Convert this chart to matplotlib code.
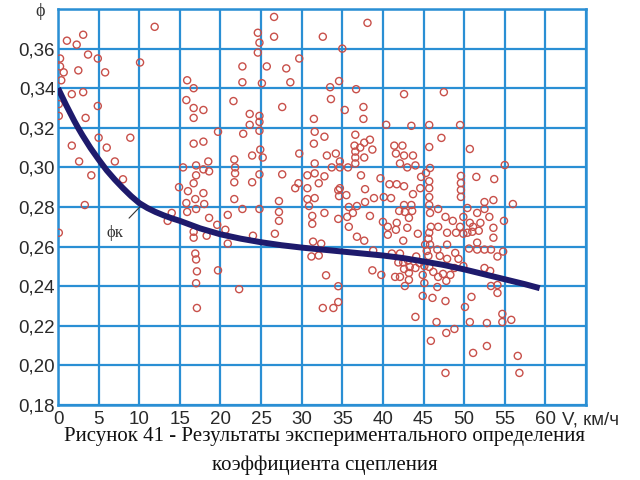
import matplotlib
matplotlib.use('Agg')
import matplotlib.pyplot as plt

# experimental points: speed V (km/h) and adhesion coefficient phi
v_pts = [
    11.9, 1.1, 3.1, 2.3, 0.25, 3.7, 4.9, 0.25, 0.7, 2.5, 5.8, 10.1, 0.4, 1.7, 3.1, 0.1,
    4.9, 0.1, 3.4, 5.0, 8.9, 1.7, 6.0, 2.6, 7.0, 4.1, 8.0, 3.3, 0.1, 14.0, 13.5,
    15.9, 16.7, 15.8, 16.7, 17.9, 16.7, 19.7, 16.7, 17.9, 15.4, 17.0, 18.5, 17.9, 18.6,
    17.0, 16.7, 14.9, 16.0, 17.9, 16.9, 15.8, 18.0, 17.0, 15.9, 18.6, 19.6, 16.7, 18.3,
    16.7, 16.9, 17.0, 17.1, 17.0, 19.7, 17.1,
    26.6, 24.6, 24.8, 26.6, 24.6, 32.6, 38.1, 35.0, 22.7, 25.7, 28.1, 29.7, 22.7, 25.1,
    28.6, 34.6, 33.5, 36.7, 33.6, 42.6, 21.6, 27.6, 35.3, 37.6, 37.6, 23.6, 24.8, 24.8,
    23.6, 24.8, 31.5, 40.4, 43.5, 22.8, 31.6, 32.8, 31.5, 36.6, 36.5, 37.2, 37.7, 38.4,
    38.7, 36.6, 36.6, 37.7, 36.6, 41.4, 42.4, 41.6, 42.6, 43.7, 42.1, 43.0, 44.0, 24.9,
    25.2, 23.9, 29.7, 33.1, 34.2, 34.7, 31.6, 33.7, 34.7, 35.7, 21.7, 21.8, 21.8, 24.8,
    27.6, 30.7, 31.6, 32.8, 37.3, 39.7, 21.7, 23.9, 29.6, 32.1, 29.2, 30.7, 21.7, 20.9,
    22.7, 24.8, 20.6, 20.9, 24.0, 26.7, 27.2, 27.2, 27.2, 30.7, 31.6, 30.9, 32.8, 31.3,
    31.3, 34.5, 34.5, 31.4, 32.4, 31.2, 32.1, 33.0, 34.5, 22.3, 32.6, 33.9, 34.5,
    34.7, 34.6, 35.5, 37.8, 40.8, 41.7, 42.6, 43.7, 40.1, 41.0, 38.9, 37.8, 35.8, 36.8,
    35.6, 36.3, 38.4, 35.8, 36.8, 37.7, 40.0, 40.6, 41.7, 41.6, 40.6, 42.6, 43.5, 42.7,
    43.6, 42.0, 43.2, 43.0, 42.5, 44.3, 38.8, 41.1, 42.1, 41.9, 42.5, 43.1, 44.1, 42.6,
    43.3, 42.1, 43.2, 43.2, 42.7, 44.5, 38.7, 39.8, 41.5, 44.0, 44.6, 45.7, 45.7, 45.7,
    49.6, 49.6, 49.6, 49.6, 45.7, 45.8, 46.8, 47.7, 48.6, 49.5, 49.9, 50.4, 51.6, 52.5,
    53.6, 56.0, 50.7, 51.1, 52.0, 51.8, 51.0, 50.4, 53.6, 53.6, 54.9, 52.5, 53.1, 45.7,
    45.9, 46.8, 47.9, 49.0, 49.9, 45.6, 45.2, 45.8, 46.7, 47.9, 51.6, 51.6, 52.5, 53.3,
    50.6, 54.1, 54.8, 45.4, 45.6, 47.0, 47.9, 48.9, 49.3, 44.0, 45.1, 45.7, 46.2, 44.9,
    47.4, 48.3, 46.8, 47.8, 48.8, 49.9, 52.5, 53.2, 45.1, 46.7, 53.3, 54.1, 54.1, 44.9,
    46.1, 47.7, 50.9, 50.1, 46.6, 50.7, 52.8, 54.7, 54.7, 55.8, 48.8, 47.8, 45.9, 52.8,
    51.1, 56.6, 47.7, 56.8, 47.5, 45.7, 49.5, 45.7, 47.2, 50.7, 45.8, 55.0, 45.3, 44.7,
    51.5, 53.7,
]
phi_pts = [
    0.371, 0.364, 0.367, 0.362, 0.355, 0.357, 0.355, 0.351, 0.348, 0.349, 0.348, 0.353,
    0.344, 0.337, 0.338, 0.332, 0.331, 0.326, 0.325, 0.315, 0.315, 0.311, 0.310, 0.303,
    0.303, 0.296, 0.294, 0.281, 0.267, 0.277, 0.273,
    0.344, 0.340, 0.334, 0.330, 0.329, 0.325, 0.318, 0.312, 0.313, 0.300, 0.301, 0.303,
    0.299, 0.298, 0.296, 0.292, 0.290, 0.288, 0.287, 0.284, 0.282, 0.2815, 0.279, 0.2775,
    0.2745, 0.271, 0.2675, 0.2655, 0.2645, 0.2565, 0.2535, 0.2475, 0.2415, 0.248, 0.229,
    0.376, 0.368, 0.363, 0.366, 0.358, 0.366, 0.373, 0.360, 0.351, 0.351, 0.350, 0.355,
    0.343, 0.3425, 0.343, 0.3436, 0.3405, 0.3395, 0.3345, 0.337, 0.3335, 0.3305, 0.329,
    0.3305, 0.3245, 0.327, 0.326, 0.323, 0.3215, 0.3185, 0.3245, 0.3215, 0.321, 0.317,
    0.318, 0.3155, 0.312, 0.3165, 0.311, 0.310, 0.3125, 0.314, 0.309, 0.308, 0.305,
    0.305, 0.302, 0.311, 0.311, 0.307, 0.306, 0.306, 0.302, 0.300, 0.301, 0.309, 0.305,
    0.306, 0.307, 0.306, 0.307, 0.303, 0.302, 0.300, 0.300, 0.300, 0.304, 0.300, 0.297,
    0.2965, 0.2965, 0.296, 0.297, 0.2955, 0.296, 0.2945, 0.2925, 0.2925, 0.292, 0.292,
    0.2895, 0.2895, 0.284, 0.276, 0.279, 0.279, 0.2685, 0.2615, 0.2655, 0.2665, 0.283,
    0.2775, 0.273, 0.284, 0.2845, 0.2805, 0.277, 0.2755, 0.2715, 0.2885, 0.274, 0.2625,
    0.2615, 0.255, 0.2555, 0.2455, 0.240, 0.2385, 0.229, 0.229, 0.232,
    0.2895, 0.2855, 0.286, 0.289, 0.2915, 0.2915, 0.2905, 0.2865, 0.285, 0.2845, 0.2845,
    0.2825, 0.280, 0.2805, 0.275, 0.277, 0.2755, 0.270, 0.265, 0.263, 0.2725, 0.270,
    0.272, 0.2685, 0.266, 0.281, 0.281, 0.2775, 0.278, 0.278, 0.2745, 0.2695, 0.263,
    0.2665, 0.258, 0.2565, 0.2565, 0.252, 0.252, 0.253, 0.255, 0.2487, 0.2497, 0.2447,
    0.2467, 0.2432, 0.2401, 0.2517, 0.248, 0.2457, 0.2447, 0.2245, 0.2895, 0.293, 0.2895,
    0.285, 0.2957, 0.2921, 0.2886, 0.2851, 0.281, 0.277, 0.279, 0.275, 0.273, 0.270,
    0.275, 0.2795, 0.277, 0.2825, 0.2835, 0.2815, 0.272, 0.270, 0.272, 0.268, 0.2675,
    0.267, 0.2695, 0.2645, 0.273, 0.279, 0.275, 0.267, 0.270, 0.270, 0.267, 0.267,
    0.2665, 0.264, 0.261, 0.261, 0.2585, 0.261, 0.262, 0.2585, 0.2585, 0.2585, 0.259,
    0.255, 0.2575, 0.2578, 0.2553, 0.2553, 0.2538, 0.2568, 0.2538, 0.2492, 0.2502,
    0.2497, 0.2472, 0.2457, 0.2462, 0.2457, 0.2447, 0.2427, 0.2492, 0.2502, 0.2492,
    0.2477, 0.2416, 0.2396, 0.2401, 0.2406, 0.2366, 0.2351, 0.2341, 0.2325, 0.2346,
    0.2295, 0.2219, 0.2219, 0.2214, 0.2260, 0.2219, 0.2230, 0.2184, 0.2164, 0.2124,
    0.2098, 0.2063, 0.2048, 0.1962, 0.1962, 0.338, 0.3214, 0.3214, 0.3103, 0.3149,
    0.3093, 0.2997, 0.3012, 0.2972, 0.2952, 0.2952, 0.2941,
]

# fitted curve phi_k(V)
curve_v = [0, 1, 2, 2.5, 3, 4, 5, 6, 7, 8, 9, 10, 11, 12, 13, 14, 15, 17.5, 20,
           22.5, 25, 27.5, 30, 35, 40, 42.5, 45, 47.5, 50, 52.5, 55, 57.5, 59.3]
curve_phi = [0.340, 0.3315, 0.3235, 0.3198, 0.3163, 0.3098, 0.304, 0.2985, 0.2938,
             0.2895, 0.2855, 0.282, 0.2795, 0.2775, 0.2758, 0.2743, 0.273, 0.2692,
             0.2662, 0.264, 0.2622, 0.2607, 0.2595, 0.2575, 0.2555, 0.2542, 0.2525,
             0.2507, 0.2485, 0.246, 0.2435, 0.241, 0.239]

x_ticks = list(range(0, 70, 5))
y_ticks = [0.18, 0.20, 0.22, 0.24, 0.26, 0.28, 0.30, 0.32, 0.34, 0.36, 0.38]

grid_blue = '#2a8fd4'

fig = plt.figure(figsize=(6.4, 4.8), dpi=100)
ax = fig.add_axes([58 / 640, 1 - 405 / 480, 528 / 640, 396 / 480])

ax.scatter(v_pts, phi_pts, s=26, facecolors='none', edgecolors='#c8504a',
           linewidths=1.0, zorder=3)
ax.plot(curve_v, curve_phi, color='#1e1a6c', lw=4.3, solid_capstyle='butt',
        solid_joinstyle='round', zorder=4)

ax.set_xlim(0, 65)
ax.set_ylim(0.18, 0.38)
ax.set_xticks(x_ticks)
ax.set_yticks(y_ticks)
ax.set_xticklabels([str(t) if t <= 60 else '' for t in x_ticks])
ax.set_yticklabels([f'{t:.2f}'.replace('.', ',') if t < 0.37 else '' for t in y_ticks])
ax.tick_params(length=0, labelsize=13.5, labelcolor='#2a2a2a')
ax.tick_params(axis='x', pad=4)
ax.tick_params(axis='y', pad=2)
for lab in ax.get_xticklabels() + ax.get_yticklabels():
    lab.set_fontfamily('Liberation Sans')

ax.grid(True, color=grid_blue, lw=1.6, zorder=1)
ax.set_axisbelow(True)
for sp in ax.spines.values():
    sp.set_color(grid_blue)
    sp.set_linewidth(1.8)

# curve label with leader line
ax.annotate('ϕк', xy=(10.3, 0.281), xytext=(7.0, 0.2669), ha='center', va='center',
            fontsize=12, family='Liberation Serif', color='#333333',
            arrowprops=dict(arrowstyle='-', color='#333333', lw=0.8, shrinkA=4, shrinkB=0))

fig.text(40 / 640, 1 - 12 / 480, 'ϕ', ha='center', va='center', fontsize=13,
         family='Liberation Serif', color='#333333')
# axis unit sits on the same baseline as the "60" tick label
x60 = ax.get_xticklabels()[12]
fig.text(562 / 640, 0, 'V, км/ч', ha='left', va='baseline', fontsize=13.5,
         family='Liberation Sans', color='#2a2a2a')
fig.canvas.draw()
bb = x60.get_window_extent()
fig.texts[-1].set_y((bb.y0 + 0.2 * bb.height) / fig.bbox.height)

fig.text(325 / 640, 1 - 437 / 480,
         'Рисунок 41 - Результаты экспериментального определения',
         ha='center', va='center', fontsize=15, family='Liberation Serif', color='#111111')
fig.text(325 / 640, 1 - 465 / 480, 'коэффициента сцепления',
         ha='center', va='center', fontsize=15, family='Liberation Serif', color='#111111')

fig.savefig('out.png', dpi=100)
